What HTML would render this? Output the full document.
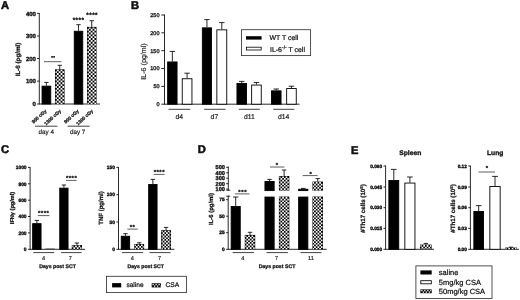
<!DOCTYPE html>
<html><head><meta charset="utf-8"><title>Figure</title>
<style>
html,body{margin:0;padding:0;background:#fff;}
body{width:520px;height:300px;overflow:hidden;}
svg{display:block;text-rendering:geometricPrecision;font-family:"Liberation Sans",Arial,sans-serif;fill:#111;}
</style></head><body>
<svg width="520" height="300" viewBox="0 0 520 300">
<rect width="520" height="300" fill="#fff"/>
<text x="1.1" y="9.0" font-size="11.2" text-anchor="start" font-weight="bold" stroke="#111" stroke-width="0.55">A</text>
<line x1="39.3" y1="12.95" x2="39.3" y2="104.45" stroke="#111" stroke-width="0.9"/>
<line x1="37.1" y1="104.0" x2="39.3" y2="104.0" stroke="#111" stroke-width="0.9"/>
<text x="35.9" y="106.16" font-size="6" text-anchor="end" font-weight="bold" stroke="#111" stroke-width="0.35">0</text>
<line x1="37.1" y1="81.1" x2="39.3" y2="81.1" stroke="#111" stroke-width="0.9"/>
<text x="35.9" y="83.26" font-size="6" text-anchor="end" font-weight="bold" stroke="#111" stroke-width="0.35">100</text>
<line x1="37.1" y1="58.5" x2="39.3" y2="58.5" stroke="#111" stroke-width="0.9"/>
<text x="35.9" y="60.66" font-size="6" text-anchor="end" font-weight="bold" stroke="#111" stroke-width="0.35">200</text>
<line x1="37.1" y1="36" x2="39.3" y2="36" stroke="#111" stroke-width="0.9"/>
<text x="35.9" y="38.16" font-size="6" text-anchor="end" font-weight="bold" stroke="#111" stroke-width="0.35">300</text>
<line x1="37.1" y1="13.4" x2="39.3" y2="13.4" stroke="#111" stroke-width="0.9"/>
<text x="35.9" y="15.56" font-size="6" text-anchor="end" font-weight="bold" stroke="#111" stroke-width="0.35">400</text>
<line x1="39.3" y1="104.0" x2="100" y2="104.0" stroke="#111" stroke-width="0.9"/>
<text x="20.3" y="59.5" font-size="6.25" text-anchor="middle" font-weight="bold" stroke="#111" stroke-width="0.25" transform="rotate(-90 20.3 59.5)">IL-6 (pg/ml)</text>
<line x1="46.4" y1="82.4" x2="46.4" y2="85.7" stroke="#111" stroke-width="0.9"/>
<line x1="44.2" y1="82.4" x2="48.6" y2="82.4" stroke="#111" stroke-width="0.9"/>
<rect x="42.05" y="86.15" width="8.7" height="17.85" fill="#000" stroke="#000" stroke-width="0.9"/>
<line x1="59.75" y1="65.3" x2="59.75" y2="69.3" stroke="#111" stroke-width="0.9"/>
<line x1="57.55" y1="65.3" x2="61.95" y2="65.3" stroke="#111" stroke-width="0.9"/>
<rect x="55" y="69.3" width="9.50" height="34.70" fill="#000"/>
<path d="M56.85 69.80h1.85v1.45h-1.85zM60.55 69.80h1.85v1.45h-1.85zM55.50 71.25h1.35v1.85h-1.35zM58.70 71.25h1.85v1.85h-1.85zM62.40 71.25h1.60v1.85h-1.60zM56.85 73.10h1.85v1.85h-1.85zM60.55 73.10h1.85v1.85h-1.85zM55.50 74.95h1.35v1.85h-1.35zM58.70 74.95h1.85v1.85h-1.85zM62.40 74.95h1.60v1.85h-1.60zM56.85 76.80h1.85v1.85h-1.85zM60.55 76.80h1.85v1.85h-1.85zM55.50 78.65h1.35v1.85h-1.35zM58.70 78.65h1.85v1.85h-1.85zM62.40 78.65h1.60v1.85h-1.60zM56.85 80.50h1.85v1.85h-1.85zM60.55 80.50h1.85v1.85h-1.85zM55.50 82.35h1.35v1.85h-1.35zM58.70 82.35h1.85v1.85h-1.85zM62.40 82.35h1.60v1.85h-1.60zM56.85 84.20h1.85v1.85h-1.85zM60.55 84.20h1.85v1.85h-1.85zM55.50 86.05h1.35v1.85h-1.35zM58.70 86.05h1.85v1.85h-1.85zM62.40 86.05h1.60v1.85h-1.60zM56.85 87.90h1.85v1.85h-1.85zM60.55 87.90h1.85v1.85h-1.85zM55.50 89.75h1.35v1.85h-1.35zM58.70 89.75h1.85v1.85h-1.85zM62.40 89.75h1.60v1.85h-1.60zM56.85 91.60h1.85v1.85h-1.85zM60.55 91.60h1.85v1.85h-1.85zM55.50 93.45h1.35v1.85h-1.35zM58.70 93.45h1.85v1.85h-1.85zM62.40 93.45h1.60v1.85h-1.60zM56.85 95.30h1.85v1.85h-1.85zM60.55 95.30h1.85v1.85h-1.85zM55.50 97.15h1.35v1.85h-1.35zM58.70 97.15h1.85v1.85h-1.85zM62.40 97.15h1.60v1.85h-1.60zM56.85 99.00h1.85v1.85h-1.85zM60.55 99.00h1.85v1.85h-1.85zM55.50 100.85h1.35v1.85h-1.35zM58.70 100.85h1.85v1.85h-1.85zM62.40 100.85h1.60v1.85h-1.60zM56.85 102.70h1.85v1.30h-1.85zM60.55 102.70h1.85v1.30h-1.85z" fill="#fff"/>
<line x1="78.5" y1="24.7" x2="78.5" y2="30.8" stroke="#111" stroke-width="0.9"/>
<line x1="76.3" y1="24.7" x2="80.7" y2="24.7" stroke="#111" stroke-width="0.9"/>
<rect x="74.25" y="31.25" width="8.5" height="72.75" fill="#000" stroke="#000" stroke-width="0.9"/>
<line x1="91.75" y1="20.7" x2="91.75" y2="26.9" stroke="#111" stroke-width="0.9"/>
<line x1="89.55" y1="20.7" x2="93.95" y2="20.7" stroke="#111" stroke-width="0.9"/>
<rect x="87" y="26.9" width="9.50" height="77.10" fill="#000"/>
<path d="M88.85 27.40h1.85v1.45h-1.85zM92.55 27.40h1.85v1.45h-1.85zM87.50 28.85h1.35v1.85h-1.35zM90.70 28.85h1.85v1.85h-1.85zM94.40 28.85h1.60v1.85h-1.60zM88.85 30.70h1.85v1.85h-1.85zM92.55 30.70h1.85v1.85h-1.85zM87.50 32.55h1.35v1.85h-1.35zM90.70 32.55h1.85v1.85h-1.85zM94.40 32.55h1.60v1.85h-1.60zM88.85 34.40h1.85v1.85h-1.85zM92.55 34.40h1.85v1.85h-1.85zM87.50 36.25h1.35v1.85h-1.35zM90.70 36.25h1.85v1.85h-1.85zM94.40 36.25h1.60v1.85h-1.60zM88.85 38.10h1.85v1.85h-1.85zM92.55 38.10h1.85v1.85h-1.85zM87.50 39.95h1.35v1.85h-1.35zM90.70 39.95h1.85v1.85h-1.85zM94.40 39.95h1.60v1.85h-1.60zM88.85 41.80h1.85v1.85h-1.85zM92.55 41.80h1.85v1.85h-1.85zM87.50 43.65h1.35v1.85h-1.35zM90.70 43.65h1.85v1.85h-1.85zM94.40 43.65h1.60v1.85h-1.60zM88.85 45.50h1.85v1.85h-1.85zM92.55 45.50h1.85v1.85h-1.85zM87.50 47.35h1.35v1.85h-1.35zM90.70 47.35h1.85v1.85h-1.85zM94.40 47.35h1.60v1.85h-1.60zM88.85 49.20h1.85v1.85h-1.85zM92.55 49.20h1.85v1.85h-1.85zM87.50 51.05h1.35v1.85h-1.35zM90.70 51.05h1.85v1.85h-1.85zM94.40 51.05h1.60v1.85h-1.60zM88.85 52.90h1.85v1.85h-1.85zM92.55 52.90h1.85v1.85h-1.85zM87.50 54.75h1.35v1.85h-1.35zM90.70 54.75h1.85v1.85h-1.85zM94.40 54.75h1.60v1.85h-1.60zM88.85 56.60h1.85v1.85h-1.85zM92.55 56.60h1.85v1.85h-1.85zM87.50 58.45h1.35v1.85h-1.35zM90.70 58.45h1.85v1.85h-1.85zM94.40 58.45h1.60v1.85h-1.60zM88.85 60.30h1.85v1.85h-1.85zM92.55 60.30h1.85v1.85h-1.85zM87.50 62.15h1.35v1.85h-1.35zM90.70 62.15h1.85v1.85h-1.85zM94.40 62.15h1.60v1.85h-1.60zM88.85 64.00h1.85v1.85h-1.85zM92.55 64.00h1.85v1.85h-1.85zM87.50 65.85h1.35v1.85h-1.35zM90.70 65.85h1.85v1.85h-1.85zM94.40 65.85h1.60v1.85h-1.60zM88.85 67.70h1.85v1.85h-1.85zM92.55 67.70h1.85v1.85h-1.85zM87.50 69.55h1.35v1.85h-1.35zM90.70 69.55h1.85v1.85h-1.85zM94.40 69.55h1.60v1.85h-1.60zM88.85 71.40h1.85v1.85h-1.85zM92.55 71.40h1.85v1.85h-1.85zM87.50 73.25h1.35v1.85h-1.35zM90.70 73.25h1.85v1.85h-1.85zM94.40 73.25h1.60v1.85h-1.60zM88.85 75.10h1.85v1.85h-1.85zM92.55 75.10h1.85v1.85h-1.85zM87.50 76.95h1.35v1.85h-1.35zM90.70 76.95h1.85v1.85h-1.85zM94.40 76.95h1.60v1.85h-1.60zM88.85 78.80h1.85v1.85h-1.85zM92.55 78.80h1.85v1.85h-1.85zM87.50 80.65h1.35v1.85h-1.35zM90.70 80.65h1.85v1.85h-1.85zM94.40 80.65h1.60v1.85h-1.60zM88.85 82.50h1.85v1.85h-1.85zM92.55 82.50h1.85v1.85h-1.85zM87.50 84.35h1.35v1.85h-1.35zM90.70 84.35h1.85v1.85h-1.85zM94.40 84.35h1.60v1.85h-1.60zM88.85 86.20h1.85v1.85h-1.85zM92.55 86.20h1.85v1.85h-1.85zM87.50 88.05h1.35v1.85h-1.35zM90.70 88.05h1.85v1.85h-1.85zM94.40 88.05h1.60v1.85h-1.60zM88.85 89.90h1.85v1.85h-1.85zM92.55 89.90h1.85v1.85h-1.85zM87.50 91.75h1.35v1.85h-1.35zM90.70 91.75h1.85v1.85h-1.85zM94.40 91.75h1.60v1.85h-1.60zM88.85 93.60h1.85v1.85h-1.85zM92.55 93.60h1.85v1.85h-1.85zM87.50 95.45h1.35v1.85h-1.35zM90.70 95.45h1.85v1.85h-1.85zM94.40 95.45h1.60v1.85h-1.60zM88.85 97.30h1.85v1.85h-1.85zM92.55 97.30h1.85v1.85h-1.85zM87.50 99.15h1.35v1.85h-1.35zM90.70 99.15h1.85v1.85h-1.85zM94.40 99.15h1.60v1.85h-1.60zM88.85 101.00h1.85v1.85h-1.85zM92.55 101.00h1.85v1.85h-1.85zM87.50 102.85h1.35v1.15h-1.35zM90.70 102.85h1.85v1.15h-1.85zM94.40 102.85h1.60v1.15h-1.60z" fill="#fff"/>
<text x="53.17" y="59.46" font-size="4.3" font-weight="bold" text-anchor="middle" letter-spacing="0.35" stroke="#111" stroke-width="0.3">**</text>
<line x1="44" y1="61.7" x2="61.4" y2="61.7" stroke="#2a2a2a" stroke-width="0.75"/>
<text x="78.58" y="21.71" font-size="6.2" font-weight="bold" text-anchor="middle" letter-spacing="0.55" stroke="#111" stroke-width="0.3">****</text>
<text x="92.18" y="17.41" font-size="6.2" font-weight="bold" text-anchor="middle" letter-spacing="0.55" stroke="#111" stroke-width="0.3">****</text>
<text x="47.0" y="111.6" font-size="4.75" text-anchor="end" font-weight="bold" stroke="#111" stroke-width="0.25" transform="rotate(-42 47.0 111.6)">900 cGy</text>
<text x="61.5" y="111.6" font-size="4.75" text-anchor="end" font-weight="bold" stroke="#111" stroke-width="0.25" transform="rotate(-42 61.5 111.6)">1300 cGy</text>
<text x="79.3" y="111.6" font-size="4.75" text-anchor="end" font-weight="bold" stroke="#111" stroke-width="0.25" transform="rotate(-42 79.3 111.6)">900 cGy</text>
<text x="93.5" y="111.6" font-size="4.75" text-anchor="end" font-weight="bold" stroke="#111" stroke-width="0.25" transform="rotate(-42 93.5 111.6)">1300 cGy</text>
<line x1="35" y1="126.2" x2="57.4" y2="126.2" stroke="#111" stroke-width="0.8"/>
<line x1="67.5" y1="126.2" x2="89.6" y2="126.2" stroke="#111" stroke-width="0.8"/>
<text x="46.2" y="134" font-size="6.3" text-anchor="middle" stroke="#111" stroke-width="0.15">day 4</text>
<text x="77.6" y="134" font-size="6.3" text-anchor="middle" stroke="#111" stroke-width="0.15">day 7</text>
<text x="131.1" y="9.0" font-size="11.2" text-anchor="start" font-weight="bold" stroke="#111" stroke-width="0.55">B</text>
<line x1="164.5" y1="14.55" x2="164.5" y2="104.65" stroke="#111" stroke-width="0.9"/>
<line x1="161.3" y1="104.2" x2="164.5" y2="104.2" stroke="#111" stroke-width="0.9"/>
<text x="159.5" y="106.18" font-size="5.5" text-anchor="end" stroke="#111" stroke-width="0.3">0</text>
<line x1="161.3" y1="86.4" x2="164.5" y2="86.4" stroke="#111" stroke-width="0.9"/>
<text x="159.5" y="88.38" font-size="5.5" text-anchor="end" stroke="#111" stroke-width="0.3">50</text>
<line x1="161.3" y1="68.5" x2="164.5" y2="68.5" stroke="#111" stroke-width="0.9"/>
<text x="159.5" y="70.48" font-size="5.5" text-anchor="end" stroke="#111" stroke-width="0.3">100</text>
<line x1="161.3" y1="50.7" x2="164.5" y2="50.7" stroke="#111" stroke-width="0.9"/>
<text x="159.5" y="52.68" font-size="5.5" text-anchor="end" stroke="#111" stroke-width="0.3">150</text>
<line x1="161.3" y1="32.8" x2="164.5" y2="32.8" stroke="#111" stroke-width="0.9"/>
<text x="159.5" y="34.78" font-size="5.5" text-anchor="end" stroke="#111" stroke-width="0.3">200</text>
<line x1="161.3" y1="15" x2="164.5" y2="15" stroke="#111" stroke-width="0.9"/>
<text x="159.5" y="16.98" font-size="5.5" text-anchor="end" stroke="#111" stroke-width="0.3">250</text>
<line x1="164.5" y1="104.2" x2="299.5" y2="104.2" stroke="#111" stroke-width="0.9"/>
<text x="145.9" y="61.5" font-size="7.15" text-anchor="middle" stroke="#111" stroke-width="0.15" transform="rotate(-90 145.9 61.5)">IL-6 (pg/ml)</text>
<line x1="172.35" y1="51.4" x2="172.35" y2="61.5" stroke="#111" stroke-width="0.9"/>
<line x1="169.65" y1="51.4" x2="175.05" y2="51.4" stroke="#111" stroke-width="0.9"/>
<rect x="167.65" y="61.95" width="9.4" height="42.25" fill="#000" stroke="#000" stroke-width="0.9"/>
<line x1="187.1" y1="73.2" x2="187.1" y2="78.3" stroke="#111" stroke-width="0.9"/>
<line x1="184.4" y1="73.2" x2="189.8" y2="73.2" stroke="#111" stroke-width="0.9"/>
<rect x="182.25" y="78.75" width="9.7" height="25.45" fill="#fff" stroke="#000" stroke-width="0.9"/>
<line x1="206.95" y1="19.6" x2="206.95" y2="27.4" stroke="#111" stroke-width="0.9"/>
<line x1="204.25" y1="19.6" x2="209.65" y2="19.6" stroke="#111" stroke-width="0.9"/>
<rect x="202.35" y="27.85" width="9.2" height="76.35" fill="#000" stroke="#000" stroke-width="0.9"/>
<line x1="221.8" y1="22.6" x2="221.8" y2="29.4" stroke="#111" stroke-width="0.9"/>
<line x1="219.1" y1="22.6" x2="224.5" y2="22.6" stroke="#111" stroke-width="0.9"/>
<rect x="216.85" y="29.85" width="9.9" height="74.35" fill="#fff" stroke="#000" stroke-width="0.9"/>
<line x1="241.75" y1="81.4" x2="241.75" y2="83" stroke="#111" stroke-width="0.9"/>
<line x1="239.05" y1="81.4" x2="244.45" y2="81.4" stroke="#111" stroke-width="0.9"/>
<rect x="236.95" y="83.45" width="9.6" height="20.75" fill="#000" stroke="#000" stroke-width="0.9"/>
<line x1="256.45" y1="82.5" x2="256.45" y2="84.6" stroke="#111" stroke-width="0.9"/>
<line x1="253.75" y1="82.5" x2="259.15" y2="82.5" stroke="#111" stroke-width="0.9"/>
<rect x="251.65" y="85.05" width="9.6" height="19.15" fill="#fff" stroke="#000" stroke-width="0.9"/>
<line x1="276.25" y1="89" x2="276.25" y2="90.4" stroke="#111" stroke-width="0.9"/>
<line x1="273.55" y1="89" x2="278.95" y2="89" stroke="#111" stroke-width="0.9"/>
<rect x="271.45" y="90.85" width="9.6" height="13.35" fill="#000" stroke="#000" stroke-width="0.9"/>
<line x1="291.45" y1="86.2" x2="291.45" y2="88.1" stroke="#111" stroke-width="0.9"/>
<line x1="288.75" y1="86.2" x2="294.15" y2="86.2" stroke="#111" stroke-width="0.9"/>
<rect x="286.65" y="88.55" width="9.6" height="15.65" fill="#fff" stroke="#000" stroke-width="0.9"/>
<line x1="168.5" y1="109.3" x2="190.2" y2="109.3" stroke="#111" stroke-width="0.8"/>
<text x="179.3" y="119.1" font-size="6.8" text-anchor="middle" stroke="#111" stroke-width="0.15">d4</text>
<line x1="204.2" y1="109.3" x2="225.6" y2="109.3" stroke="#111" stroke-width="0.8"/>
<text x="214.4" y="119.1" font-size="6.8" text-anchor="middle" stroke="#111" stroke-width="0.15">d7</text>
<line x1="238.8" y1="109.3" x2="259.8" y2="109.3" stroke="#111" stroke-width="0.8"/>
<text x="249.3" y="119.1" font-size="6.8" text-anchor="middle" stroke="#111" stroke-width="0.15">d11</text>
<line x1="273.3" y1="109.3" x2="294.3" y2="109.3" stroke="#111" stroke-width="0.8"/>
<text x="283.6" y="119.1" font-size="6.8" text-anchor="middle" stroke="#111" stroke-width="0.15">d14</text>
<rect x="241.5" y="29.7" width="69.1" height="25.9" fill="#fff" stroke="#333" stroke-width="0.85"/>
<rect x="246" y="36.2" width="15.6" height="3.4" fill="#000"/>
<rect x="246.4" y="47.2" width="14.8" height="2.8" fill="#fff" stroke="#000" stroke-width="0.8"/>
<text x="269.5" y="40.4" font-size="6.95" text-anchor="start" stroke="#111" stroke-width="0.22">WT T cell</text>
<text x="270" y="51.5" font-size="6.95" stroke="#111" stroke-width="0.22">IL-6<tspan font-size="5" dy="-3">-/-</tspan><tspan dy="3"> T cell</tspan></text>
<text x="1.1" y="153.4" font-size="11.2" text-anchor="start" font-weight="bold" stroke="#111" stroke-width="0.55">C</text>
<line x1="30.1" y1="166.95" x2="30.1" y2="249.75" stroke="#111" stroke-width="0.9"/>
<line x1="28.0" y1="249.3" x2="30.1" y2="249.3" stroke="#111" stroke-width="0.9"/>
<text x="26.6" y="251.06" font-size="4.9" text-anchor="end" font-weight="bold" stroke="#111" stroke-width="0.35">0</text>
<line x1="28.0" y1="232.9" x2="30.1" y2="232.9" stroke="#111" stroke-width="0.9"/>
<text x="26.6" y="234.66" font-size="4.9" text-anchor="end" font-weight="bold" stroke="#111" stroke-width="0.35">200</text>
<line x1="28.0" y1="216.5" x2="30.1" y2="216.5" stroke="#111" stroke-width="0.9"/>
<text x="26.6" y="218.264" font-size="4.9" text-anchor="end" font-weight="bold" stroke="#111" stroke-width="0.35">400</text>
<line x1="28.0" y1="200.2" x2="30.1" y2="200.2" stroke="#111" stroke-width="0.9"/>
<text x="26.6" y="201.964" font-size="4.9" text-anchor="end" font-weight="bold" stroke="#111" stroke-width="0.35">600</text>
<line x1="28.0" y1="183.8" x2="30.1" y2="183.8" stroke="#111" stroke-width="0.9"/>
<text x="26.6" y="185.56" font-size="4.9" text-anchor="end" font-weight="bold" stroke="#111" stroke-width="0.35">800</text>
<line x1="28.0" y1="167.4" x2="30.1" y2="167.4" stroke="#111" stroke-width="0.9"/>
<text x="26.6" y="169.16" font-size="4.9" text-anchor="end" font-weight="bold" stroke="#111" stroke-width="0.35">1000</text>
<line x1="30" y1="249.3" x2="85.1" y2="249.3" stroke="#111" stroke-width="0.9"/>
<text x="14" y="208" font-size="5.6" text-anchor="middle" font-weight="bold" stroke="#111" stroke-width="0.25" transform="rotate(-90 14 208)">IFNγ (pg/ml)</text>
<line x1="36.85" y1="220.4" x2="36.85" y2="223.2" stroke="#111" stroke-width="0.9"/>
<line x1="34.65" y1="220.4" x2="39.05" y2="220.4" stroke="#111" stroke-width="0.9"/>
<rect x="32.65" y="223.65" width="8.4" height="25.65" fill="#000" stroke="#000" stroke-width="0.9"/>
<line x1="45.5" y1="248.8" x2="54.8" y2="248.8" stroke="#111" stroke-width="0.5"/>
<line x1="63.9" y1="185" x2="63.9" y2="187.7" stroke="#111" stroke-width="0.9"/>
<line x1="61.7" y1="185" x2="66.1" y2="185" stroke="#111" stroke-width="0.9"/>
<rect x="59.75" y="188.15" width="8.3" height="61.15" fill="#000" stroke="#000" stroke-width="0.9"/>
<line x1="76.9" y1="243" x2="76.9" y2="245.1" stroke="#111" stroke-width="0.9"/>
<line x1="74.7" y1="243" x2="79.1" y2="243" stroke="#111" stroke-width="0.9"/>
<rect x="71.8" y="245.1" width="10.20" height="4.20" fill="#000"/>
<path d="M72.30 245.60h1.10v1.60h-1.10zM75.10 245.60h1.70v1.60h-1.70zM78.50 245.60h1.70v1.60h-1.70zM73.40 247.20h1.70v1.70h-1.70zM76.80 247.20h1.70v1.70h-1.70zM80.20 247.20h1.30v1.70h-1.30zM72.30 248.90h1.10v0.40h-1.10zM75.10 248.90h1.70v0.40h-1.70zM78.50 248.90h1.70v0.40h-1.70z" fill="#fff"/>
<text x="43.65" y="215.31" font-size="6" font-weight="bold" text-anchor="middle" letter-spacing="0.5" stroke="#111" stroke-width="0.3">****</text>
<line x1="37.8" y1="215.6" x2="49.4" y2="215.6" stroke="#2a2a2a" stroke-width="0.75"/>
<text x="71.55" y="179.61" font-size="6" font-weight="bold" text-anchor="middle" letter-spacing="0.5" stroke="#111" stroke-width="0.3">****</text>
<line x1="66" y1="180.4" x2="76.6" y2="180.4" stroke="#2a2a2a" stroke-width="0.75"/>
<line x1="33.3" y1="252.6" x2="54.1" y2="252.6" stroke="#111" stroke-width="0.8"/>
<line x1="61.1" y1="252.6" x2="81.6" y2="252.6" stroke="#111" stroke-width="0.8"/>
<text x="43.6" y="260.2" font-size="5.6" text-anchor="middle" stroke="#111" stroke-width="0.15">4</text>
<text x="70.4" y="260.2" font-size="5.6" text-anchor="middle" stroke="#111" stroke-width="0.15">7</text>
<text x="57.5" y="268" font-size="5.2" text-anchor="middle" font-weight="bold" stroke="#111" stroke-width="0.25">Days post SCT</text>
<line x1="118.5" y1="166.95" x2="118.5" y2="249.75" stroke="#111" stroke-width="0.9"/>
<line x1="116.4" y1="249.3" x2="118.5" y2="249.3" stroke="#111" stroke-width="0.9"/>
<text x="115.0" y="251.06" font-size="4.9" text-anchor="end" font-weight="bold" stroke="#111" stroke-width="0.35">0</text>
<line x1="116.4" y1="222" x2="118.5" y2="222" stroke="#111" stroke-width="0.9"/>
<text x="115.0" y="223.764" font-size="4.9" text-anchor="end" font-weight="bold" stroke="#111" stroke-width="0.35">50</text>
<line x1="116.4" y1="194.7" x2="118.5" y2="194.7" stroke="#111" stroke-width="0.9"/>
<text x="115.0" y="196.464" font-size="4.9" text-anchor="end" font-weight="bold" stroke="#111" stroke-width="0.35">100</text>
<line x1="116.4" y1="167.4" x2="118.5" y2="167.4" stroke="#111" stroke-width="0.9"/>
<text x="115.0" y="169.16" font-size="4.9" text-anchor="end" font-weight="bold" stroke="#111" stroke-width="0.35">150</text>
<line x1="118.5" y1="249.3" x2="174.4" y2="249.3" stroke="#111" stroke-width="0.9"/>
<text x="102.9" y="208" font-size="6.05" text-anchor="middle" font-weight="bold" stroke="#111" stroke-width="0.25" transform="rotate(-90 102.9 208)">TNF (pg/ml)</text>
<line x1="125.45" y1="233.7" x2="125.45" y2="235.8" stroke="#111" stroke-width="0.9"/>
<line x1="123.25" y1="233.7" x2="127.65" y2="233.7" stroke="#111" stroke-width="0.9"/>
<rect x="121.25" y="236.25" width="8.4" height="13.05" fill="#000" stroke="#000" stroke-width="0.9"/>
<line x1="139.2" y1="242.8" x2="139.2" y2="244" stroke="#111" stroke-width="0.9"/>
<line x1="137.0" y1="242.8" x2="141.4" y2="242.8" stroke="#111" stroke-width="0.9"/>
<rect x="134.3" y="244" width="9.80" height="5.30" fill="#000"/>
<path d="M134.80 244.50h1.10v1.60h-1.10zM137.60 244.50h1.70v1.60h-1.70zM141.00 244.50h1.70v1.60h-1.70zM135.90 246.10h1.70v1.70h-1.70zM139.30 246.10h1.70v1.70h-1.70zM142.70 246.10h0.90v1.70h-0.90zM134.80 247.80h1.10v1.50h-1.10zM137.60 247.80h1.70v1.50h-1.70zM141.00 247.80h1.70v1.50h-1.70z" fill="#fff"/>
<line x1="152.85" y1="179.4" x2="152.85" y2="184" stroke="#111" stroke-width="0.9"/>
<line x1="150.65" y1="179.4" x2="155.05" y2="179.4" stroke="#111" stroke-width="0.9"/>
<rect x="148.65" y="184.45" width="8.4" height="64.85" fill="#000" stroke="#000" stroke-width="0.9"/>
<line x1="166.05" y1="227.4" x2="166.05" y2="230.2" stroke="#111" stroke-width="0.9"/>
<line x1="163.85" y1="227.4" x2="168.25" y2="227.4" stroke="#111" stroke-width="0.9"/>
<rect x="161.1" y="230.2" width="9.90" height="19.10" fill="#000"/>
<path d="M161.60 230.70h1.10v1.60h-1.10zM164.40 230.70h1.70v1.60h-1.70zM167.80 230.70h1.70v1.60h-1.70zM162.70 232.30h1.70v1.70h-1.70zM166.10 232.30h1.70v1.70h-1.70zM169.50 232.30h1.00v1.70h-1.00zM161.60 234.00h1.10v1.70h-1.10zM164.40 234.00h1.70v1.70h-1.70zM167.80 234.00h1.70v1.70h-1.70zM162.70 235.70h1.70v1.70h-1.70zM166.10 235.70h1.70v1.70h-1.70zM169.50 235.70h1.00v1.70h-1.00zM161.60 237.40h1.10v1.70h-1.10zM164.40 237.40h1.70v1.70h-1.70zM167.80 237.40h1.70v1.70h-1.70zM162.70 239.10h1.70v1.70h-1.70zM166.10 239.10h1.70v1.70h-1.70zM169.50 239.10h1.00v1.70h-1.00zM161.60 240.80h1.10v1.70h-1.10zM164.40 240.80h1.70v1.70h-1.70zM167.80 240.80h1.70v1.70h-1.70zM162.70 242.50h1.70v1.70h-1.70zM166.10 242.50h1.70v1.70h-1.70zM169.50 242.50h1.00v1.70h-1.00zM161.60 244.20h1.10v1.70h-1.10zM164.40 244.20h1.70v1.70h-1.70zM167.80 244.20h1.70v1.70h-1.70zM162.70 245.90h1.70v1.70h-1.70zM166.10 245.90h1.70v1.70h-1.70zM169.50 245.90h1.00v1.70h-1.00zM161.60 247.60h1.10v1.70h-1.10zM164.40 247.60h1.70v1.70h-1.70zM167.80 247.60h1.70v1.70h-1.70z" fill="#fff"/>
<text x="132.55" y="228.51" font-size="6" font-weight="bold" text-anchor="middle" letter-spacing="0.5" stroke="#111" stroke-width="0.3">**</text>
<line x1="127.3" y1="229.1" x2="137.8" y2="229.1" stroke="#2a2a2a" stroke-width="0.75"/>
<text x="159.35" y="174.01" font-size="6" font-weight="bold" text-anchor="middle" letter-spacing="0.5" stroke="#111" stroke-width="0.3">****</text>
<line x1="153.6" y1="174.4" x2="164.6" y2="174.4" stroke="#2a2a2a" stroke-width="0.75"/>
<line x1="122" y1="252.6" x2="143.2" y2="252.6" stroke="#111" stroke-width="0.8"/>
<line x1="149.5" y1="252.6" x2="170.5" y2="252.6" stroke="#111" stroke-width="0.8"/>
<text x="132.4" y="260.2" font-size="5.6" text-anchor="middle" stroke="#111" stroke-width="0.15">4</text>
<text x="159.5" y="260.2" font-size="5.6" text-anchor="middle" stroke="#111" stroke-width="0.15">7</text>
<text x="145.7" y="268" font-size="5.2" text-anchor="middle" font-weight="bold" stroke="#111" stroke-width="0.25">Days post SCT</text>
<rect x="106.5" y="276.3" width="79.9" height="16.3" fill="#fff" stroke="#333" stroke-width="0.85"/>
<rect x="112.1" y="283.1" width="9.1" height="4.3" fill="#000"/>
<text x="126.4" y="287.4" font-size="6.6" text-anchor="start" stroke="#111" stroke-width="0.22">saline</text>
<rect x="151.7" y="283.3" width="9.20" height="4.10" fill="#000"/>
<path d="M152.52 284.02h1.26v1.26h-1.26zM155.52 284.02h1.26v1.26h-1.26zM158.52 284.02h1.26v1.26h-1.26zM152.20 285.52h0.08v1.26h-0.08zM154.02 285.52h1.26v1.26h-1.26zM157.02 285.52h1.26v1.26h-1.26zM160.02 285.52h0.38v1.26h-0.38z" fill="#fff"/>
<text x="165.5" y="287.4" font-size="6.7" text-anchor="start" stroke="#111" stroke-width="0.22">CSA</text>
<text x="197.8" y="153.4" font-size="11.2" text-anchor="start" font-weight="bold" stroke="#111" stroke-width="0.55">D</text>
<line x1="228.3" y1="166.55" x2="228.3" y2="190.65" stroke="#111" stroke-width="0.9"/>
<line x1="226.2" y1="189.1" x2="228.3" y2="189.1" stroke="#111" stroke-width="0.9"/>
<text x="224.9" y="191.12" font-size="5.6" text-anchor="end" font-weight="bold" stroke="#111" stroke-width="0.35">100</text>
<line x1="226.2" y1="183.7" x2="228.3" y2="183.7" stroke="#111" stroke-width="0.9"/>
<text x="224.9" y="185.72" font-size="5.6" text-anchor="end" font-weight="bold" stroke="#111" stroke-width="0.35">200</text>
<line x1="226.2" y1="178.2" x2="228.3" y2="178.2" stroke="#111" stroke-width="0.9"/>
<text x="224.9" y="180.22" font-size="5.6" text-anchor="end" font-weight="bold" stroke="#111" stroke-width="0.35">300</text>
<line x1="226.2" y1="172.8" x2="228.3" y2="172.8" stroke="#111" stroke-width="0.9"/>
<text x="224.9" y="174.816" font-size="5.6" text-anchor="end" font-weight="bold" stroke="#111" stroke-width="0.35">400</text>
<line x1="226.2" y1="167.3" x2="228.3" y2="167.3" stroke="#111" stroke-width="0.9"/>
<text x="224.9" y="169.316" font-size="5.6" text-anchor="end" font-weight="bold" stroke="#111" stroke-width="0.35">500</text>
<line x1="226.3" y1="190.2" x2="230.3" y2="190.2" stroke="#111" stroke-width="0.9"/>
<line x1="228.2" y1="195.75" x2="228.2" y2="249.75" stroke="#111" stroke-width="0.9"/>
<line x1="226.1" y1="249.3" x2="228.2" y2="249.3" stroke="#111" stroke-width="0.9"/>
<text x="224.7" y="251.06" font-size="4.9" text-anchor="end" font-weight="bold" stroke="#111" stroke-width="0.35">0</text>
<line x1="226.1" y1="232.7" x2="228.2" y2="232.7" stroke="#111" stroke-width="0.9"/>
<text x="224.7" y="234.464" font-size="4.9" text-anchor="end" font-weight="bold" stroke="#111" stroke-width="0.35">25</text>
<line x1="226.1" y1="216.2" x2="228.2" y2="216.2" stroke="#111" stroke-width="0.9"/>
<text x="224.7" y="217.964" font-size="4.9" text-anchor="end" font-weight="bold" stroke="#111" stroke-width="0.35">50</text>
<line x1="226.1" y1="199.7" x2="228.2" y2="199.7" stroke="#111" stroke-width="0.9"/>
<text x="224.7" y="201.464" font-size="4.9" text-anchor="end" font-weight="bold" stroke="#111" stroke-width="0.35">75</text>
<line x1="226.2" y1="196.2" x2="230.2" y2="196.2" stroke="#111" stroke-width="0.9"/>
<line x1="228.2" y1="249.3" x2="326.8" y2="249.3" stroke="#111" stroke-width="0.9"/>
<text x="213.0" y="209" font-size="5.95" text-anchor="middle" font-weight="bold" stroke="#111" stroke-width="0.25" transform="rotate(-90 213.0 209)">IL-6 (pg/ml)</text>
<line x1="235.7" y1="197" x2="235.7" y2="206" stroke="#111" stroke-width="0.9"/>
<line x1="233.0" y1="197" x2="238.4" y2="197" stroke="#111" stroke-width="0.9"/>
<rect x="231.15" y="206.45" width="9.1" height="42.85" fill="#000" stroke="#000" stroke-width="0.9"/>
<line x1="250.0" y1="232.3" x2="250.0" y2="234.9" stroke="#111" stroke-width="0.9"/>
<line x1="247.8" y1="232.3" x2="252.2" y2="232.3" stroke="#111" stroke-width="0.9"/>
<rect x="244.8" y="234.9" width="10.40" height="14.40" fill="#000"/>
<path d="M245.30 235.40h1.10v1.60h-1.10zM248.10 235.40h1.70v1.60h-1.70zM251.50 235.40h1.70v1.60h-1.70zM246.40 237.00h1.70v1.70h-1.70zM249.80 237.00h1.70v1.70h-1.70zM253.20 237.00h1.50v1.70h-1.50zM245.30 238.70h1.10v1.70h-1.10zM248.10 238.70h1.70v1.70h-1.70zM251.50 238.70h1.70v1.70h-1.70zM246.40 240.40h1.70v1.70h-1.70zM249.80 240.40h1.70v1.70h-1.70zM253.20 240.40h1.50v1.70h-1.50zM245.30 242.10h1.10v1.70h-1.10zM248.10 242.10h1.70v1.70h-1.70zM251.50 242.10h1.70v1.70h-1.70zM246.40 243.80h1.70v1.70h-1.70zM249.80 243.80h1.70v1.70h-1.70zM253.20 243.80h1.50v1.70h-1.50zM245.30 245.50h1.10v1.70h-1.10zM248.10 245.50h1.70v1.70h-1.70zM251.50 245.50h1.70v1.70h-1.70zM246.40 247.20h1.70v1.70h-1.70zM249.80 247.20h1.70v1.70h-1.70zM253.20 247.20h1.50v1.70h-1.50zM245.30 248.90h1.10v0.40h-1.10zM248.10 248.90h1.70v0.40h-1.70zM251.50 248.90h1.70v0.40h-1.70z" fill="#fff"/>
<rect x="264.95" y="197.05" width="9.2" height="52.25" fill="#000" stroke="#000" stroke-width="0.9"/>
<line x1="269.55" y1="179.4" x2="269.55" y2="181" stroke="#111" stroke-width="0.9"/>
<line x1="267.35" y1="179.4" x2="271.75" y2="179.4" stroke="#111" stroke-width="0.9"/>
<rect x="264.95" y="181.45" width="9.2" height="9.15" fill="#000" stroke="#000" stroke-width="0.9"/>
<rect x="278.9" y="196.6" width="10.40" height="52.70" fill="#000"/>
<path d="M279.40 197.10h1.10v1.60h-1.10zM282.20 197.10h1.70v1.60h-1.70zM285.60 197.10h1.70v1.60h-1.70zM280.50 198.70h1.70v1.70h-1.70zM283.90 198.70h1.70v1.70h-1.70zM287.30 198.70h1.50v1.70h-1.50zM279.40 200.40h1.10v1.70h-1.10zM282.20 200.40h1.70v1.70h-1.70zM285.60 200.40h1.70v1.70h-1.70zM280.50 202.10h1.70v1.70h-1.70zM283.90 202.10h1.70v1.70h-1.70zM287.30 202.10h1.50v1.70h-1.50zM279.40 203.80h1.10v1.70h-1.10zM282.20 203.80h1.70v1.70h-1.70zM285.60 203.80h1.70v1.70h-1.70zM280.50 205.50h1.70v1.70h-1.70zM283.90 205.50h1.70v1.70h-1.70zM287.30 205.50h1.50v1.70h-1.50zM279.40 207.20h1.10v1.70h-1.10zM282.20 207.20h1.70v1.70h-1.70zM285.60 207.20h1.70v1.70h-1.70zM280.50 208.90h1.70v1.70h-1.70zM283.90 208.90h1.70v1.70h-1.70zM287.30 208.90h1.50v1.70h-1.50zM279.40 210.60h1.10v1.70h-1.10zM282.20 210.60h1.70v1.70h-1.70zM285.60 210.60h1.70v1.70h-1.70zM280.50 212.30h1.70v1.70h-1.70zM283.90 212.30h1.70v1.70h-1.70zM287.30 212.30h1.50v1.70h-1.50zM279.40 214.00h1.10v1.70h-1.10zM282.20 214.00h1.70v1.70h-1.70zM285.60 214.00h1.70v1.70h-1.70zM280.50 215.70h1.70v1.70h-1.70zM283.90 215.70h1.70v1.70h-1.70zM287.30 215.70h1.50v1.70h-1.50zM279.40 217.40h1.10v1.70h-1.10zM282.20 217.40h1.70v1.70h-1.70zM285.60 217.40h1.70v1.70h-1.70zM280.50 219.10h1.70v1.70h-1.70zM283.90 219.10h1.70v1.70h-1.70zM287.30 219.10h1.50v1.70h-1.50zM279.40 220.80h1.10v1.70h-1.10zM282.20 220.80h1.70v1.70h-1.70zM285.60 220.80h1.70v1.70h-1.70zM280.50 222.50h1.70v1.70h-1.70zM283.90 222.50h1.70v1.70h-1.70zM287.30 222.50h1.50v1.70h-1.50zM279.40 224.20h1.10v1.70h-1.10zM282.20 224.20h1.70v1.70h-1.70zM285.60 224.20h1.70v1.70h-1.70zM280.50 225.90h1.70v1.70h-1.70zM283.90 225.90h1.70v1.70h-1.70zM287.30 225.90h1.50v1.70h-1.50zM279.40 227.60h1.10v1.70h-1.10zM282.20 227.60h1.70v1.70h-1.70zM285.60 227.60h1.70v1.70h-1.70zM280.50 229.30h1.70v1.70h-1.70zM283.90 229.30h1.70v1.70h-1.70zM287.30 229.30h1.50v1.70h-1.50zM279.40 231.00h1.10v1.70h-1.10zM282.20 231.00h1.70v1.70h-1.70zM285.60 231.00h1.70v1.70h-1.70zM280.50 232.70h1.70v1.70h-1.70zM283.90 232.70h1.70v1.70h-1.70zM287.30 232.70h1.50v1.70h-1.50zM279.40 234.40h1.10v1.70h-1.10zM282.20 234.40h1.70v1.70h-1.70zM285.60 234.40h1.70v1.70h-1.70zM280.50 236.10h1.70v1.70h-1.70zM283.90 236.10h1.70v1.70h-1.70zM287.30 236.10h1.50v1.70h-1.50zM279.40 237.80h1.10v1.70h-1.10zM282.20 237.80h1.70v1.70h-1.70zM285.60 237.80h1.70v1.70h-1.70zM280.50 239.50h1.70v1.70h-1.70zM283.90 239.50h1.70v1.70h-1.70zM287.30 239.50h1.50v1.70h-1.50zM279.40 241.20h1.10v1.70h-1.10zM282.20 241.20h1.70v1.70h-1.70zM285.60 241.20h1.70v1.70h-1.70zM280.50 242.90h1.70v1.70h-1.70zM283.90 242.90h1.70v1.70h-1.70zM287.30 242.90h1.50v1.70h-1.50zM279.40 244.60h1.10v1.70h-1.10zM282.20 244.60h1.70v1.70h-1.70zM285.60 244.60h1.70v1.70h-1.70zM280.50 246.30h1.70v1.70h-1.70zM283.90 246.30h1.70v1.70h-1.70zM287.30 246.30h1.50v1.70h-1.50zM279.40 248.00h1.10v1.30h-1.10zM282.20 248.00h1.70v1.30h-1.70zM285.60 248.00h1.70v1.30h-1.70z" fill="#fff"/>
<line x1="284.1" y1="170" x2="284.1" y2="176" stroke="#111" stroke-width="0.9"/>
<line x1="281.9" y1="170" x2="286.3" y2="170" stroke="#111" stroke-width="0.9"/>
<rect x="278.9" y="176" width="10.40" height="14.60" fill="#000"/>
<path d="M279.40 176.50h1.10v1.60h-1.10zM282.20 176.50h1.70v1.60h-1.70zM285.60 176.50h1.70v1.60h-1.70zM280.50 178.10h1.70v1.70h-1.70zM283.90 178.10h1.70v1.70h-1.70zM287.30 178.10h1.50v1.70h-1.50zM279.40 179.80h1.10v1.70h-1.10zM282.20 179.80h1.70v1.70h-1.70zM285.60 179.80h1.70v1.70h-1.70zM280.50 181.50h1.70v1.70h-1.70zM283.90 181.50h1.70v1.70h-1.70zM287.30 181.50h1.50v1.70h-1.50zM279.40 183.20h1.10v1.70h-1.10zM282.20 183.20h1.70v1.70h-1.70zM285.60 183.20h1.70v1.70h-1.70zM280.50 184.90h1.70v1.70h-1.70zM283.90 184.90h1.70v1.70h-1.70zM287.30 184.90h1.50v1.70h-1.50zM279.40 186.60h1.10v1.70h-1.10zM282.20 186.60h1.70v1.70h-1.70zM285.60 186.60h1.70v1.70h-1.70zM280.50 188.30h1.70v1.70h-1.70zM283.90 188.30h1.70v1.70h-1.70zM287.30 188.30h1.50v1.70h-1.50zM279.40 190.00h1.10v0.60h-1.10zM282.20 190.00h1.70v0.60h-1.70zM285.60 190.00h1.70v0.60h-1.70z" fill="#fff"/>
<rect x="298.65" y="197.05" width="9.2" height="52.25" fill="#000" stroke="#000" stroke-width="0.9"/>
<line x1="303.25" y1="188.4" x2="303.25" y2="188.8" stroke="#111" stroke-width="0.9"/>
<line x1="301.05" y1="188.4" x2="305.45" y2="188.4" stroke="#111" stroke-width="0.9"/>
<rect x="298.65" y="189.25" width="9.2" height="1.35" fill="#000" stroke="#000" stroke-width="0.9"/>
<rect x="312.5" y="196.6" width="10.50" height="52.70" fill="#000"/>
<path d="M313.00 197.10h1.10v1.60h-1.10zM315.80 197.10h1.70v1.60h-1.70zM319.20 197.10h1.70v1.60h-1.70zM314.10 198.70h1.70v1.70h-1.70zM317.50 198.70h1.70v1.70h-1.70zM320.90 198.70h1.60v1.70h-1.60zM313.00 200.40h1.10v1.70h-1.10zM315.80 200.40h1.70v1.70h-1.70zM319.20 200.40h1.70v1.70h-1.70zM314.10 202.10h1.70v1.70h-1.70zM317.50 202.10h1.70v1.70h-1.70zM320.90 202.10h1.60v1.70h-1.60zM313.00 203.80h1.10v1.70h-1.10zM315.80 203.80h1.70v1.70h-1.70zM319.20 203.80h1.70v1.70h-1.70zM314.10 205.50h1.70v1.70h-1.70zM317.50 205.50h1.70v1.70h-1.70zM320.90 205.50h1.60v1.70h-1.60zM313.00 207.20h1.10v1.70h-1.10zM315.80 207.20h1.70v1.70h-1.70zM319.20 207.20h1.70v1.70h-1.70zM314.10 208.90h1.70v1.70h-1.70zM317.50 208.90h1.70v1.70h-1.70zM320.90 208.90h1.60v1.70h-1.60zM313.00 210.60h1.10v1.70h-1.10zM315.80 210.60h1.70v1.70h-1.70zM319.20 210.60h1.70v1.70h-1.70zM314.10 212.30h1.70v1.70h-1.70zM317.50 212.30h1.70v1.70h-1.70zM320.90 212.30h1.60v1.70h-1.60zM313.00 214.00h1.10v1.70h-1.10zM315.80 214.00h1.70v1.70h-1.70zM319.20 214.00h1.70v1.70h-1.70zM314.10 215.70h1.70v1.70h-1.70zM317.50 215.70h1.70v1.70h-1.70zM320.90 215.70h1.60v1.70h-1.60zM313.00 217.40h1.10v1.70h-1.10zM315.80 217.40h1.70v1.70h-1.70zM319.20 217.40h1.70v1.70h-1.70zM314.10 219.10h1.70v1.70h-1.70zM317.50 219.10h1.70v1.70h-1.70zM320.90 219.10h1.60v1.70h-1.60zM313.00 220.80h1.10v1.70h-1.10zM315.80 220.80h1.70v1.70h-1.70zM319.20 220.80h1.70v1.70h-1.70zM314.10 222.50h1.70v1.70h-1.70zM317.50 222.50h1.70v1.70h-1.70zM320.90 222.50h1.60v1.70h-1.60zM313.00 224.20h1.10v1.70h-1.10zM315.80 224.20h1.70v1.70h-1.70zM319.20 224.20h1.70v1.70h-1.70zM314.10 225.90h1.70v1.70h-1.70zM317.50 225.90h1.70v1.70h-1.70zM320.90 225.90h1.60v1.70h-1.60zM313.00 227.60h1.10v1.70h-1.10zM315.80 227.60h1.70v1.70h-1.70zM319.20 227.60h1.70v1.70h-1.70zM314.10 229.30h1.70v1.70h-1.70zM317.50 229.30h1.70v1.70h-1.70zM320.90 229.30h1.60v1.70h-1.60zM313.00 231.00h1.10v1.70h-1.10zM315.80 231.00h1.70v1.70h-1.70zM319.20 231.00h1.70v1.70h-1.70zM314.10 232.70h1.70v1.70h-1.70zM317.50 232.70h1.70v1.70h-1.70zM320.90 232.70h1.60v1.70h-1.60zM313.00 234.40h1.10v1.70h-1.10zM315.80 234.40h1.70v1.70h-1.70zM319.20 234.40h1.70v1.70h-1.70zM314.10 236.10h1.70v1.70h-1.70zM317.50 236.10h1.70v1.70h-1.70zM320.90 236.10h1.60v1.70h-1.60zM313.00 237.80h1.10v1.70h-1.10zM315.80 237.80h1.70v1.70h-1.70zM319.20 237.80h1.70v1.70h-1.70zM314.10 239.50h1.70v1.70h-1.70zM317.50 239.50h1.70v1.70h-1.70zM320.90 239.50h1.60v1.70h-1.60zM313.00 241.20h1.10v1.70h-1.10zM315.80 241.20h1.70v1.70h-1.70zM319.20 241.20h1.70v1.70h-1.70zM314.10 242.90h1.70v1.70h-1.70zM317.50 242.90h1.70v1.70h-1.70zM320.90 242.90h1.60v1.70h-1.60zM313.00 244.60h1.10v1.70h-1.10zM315.80 244.60h1.70v1.70h-1.70zM319.20 244.60h1.70v1.70h-1.70zM314.10 246.30h1.70v1.70h-1.70zM317.50 246.30h1.70v1.70h-1.70zM320.90 246.30h1.60v1.70h-1.60zM313.00 248.00h1.10v1.30h-1.10zM315.80 248.00h1.70v1.30h-1.70zM319.20 248.00h1.70v1.30h-1.70z" fill="#fff"/>
<line x1="317.75" y1="178.6" x2="317.75" y2="181.6" stroke="#111" stroke-width="0.9"/>
<line x1="315.55" y1="178.6" x2="319.95" y2="178.6" stroke="#111" stroke-width="0.9"/>
<rect x="312.5" y="181.6" width="10.50" height="9.00" fill="#000"/>
<path d="M313.00 182.10h1.10v1.60h-1.10zM315.80 182.10h1.70v1.60h-1.70zM319.20 182.10h1.70v1.60h-1.70zM314.10 183.70h1.70v1.70h-1.70zM317.50 183.70h1.70v1.70h-1.70zM320.90 183.70h1.60v1.70h-1.60zM313.00 185.40h1.10v1.70h-1.10zM315.80 185.40h1.70v1.70h-1.70zM319.20 185.40h1.70v1.70h-1.70zM314.10 187.10h1.70v1.70h-1.70zM317.50 187.10h1.70v1.70h-1.70zM320.90 187.10h1.60v1.70h-1.60zM313.00 188.80h1.10v1.70h-1.10zM315.80 188.80h1.70v1.70h-1.70zM319.20 188.80h1.70v1.70h-1.70zM314.10 190.50h1.70v0.10h-1.70zM317.50 190.50h1.70v0.10h-1.70zM320.90 190.50h1.60v0.10h-1.60z" fill="#fff"/>
<text x="242.75" y="193.81" font-size="6" font-weight="bold" text-anchor="middle" letter-spacing="0.7" stroke="#111" stroke-width="0.3">***</text>
<line x1="235" y1="193.9" x2="249.5" y2="193.9" stroke="#2a2a2a" stroke-width="0.75"/>
<text x="277.00" y="166.61" font-size="6" font-weight="bold" text-anchor="middle" letter-spacing="0" stroke="#111" stroke-width="0.3">*</text>
<line x1="270" y1="167" x2="284.4" y2="167" stroke="#2a2a2a" stroke-width="0.75"/>
<text x="310.60" y="175.61" font-size="6" font-weight="bold" text-anchor="middle" letter-spacing="0" stroke="#111" stroke-width="0.3">*</text>
<line x1="302.6" y1="175.6" x2="317.6" y2="175.6" stroke="#2a2a2a" stroke-width="0.75"/>
<line x1="232.6" y1="252.6" x2="254.1" y2="252.6" stroke="#111" stroke-width="0.8"/>
<text x="242.7" y="260.2" font-size="5.6" text-anchor="middle" stroke="#111" stroke-width="0.15">4</text>
<line x1="266.5" y1="252.6" x2="288" y2="252.6" stroke="#111" stroke-width="0.8"/>
<text x="276.5" y="260.2" font-size="5.6" text-anchor="middle" stroke="#111" stroke-width="0.15">7</text>
<line x1="300.5" y1="252.6" x2="321.5" y2="252.6" stroke="#111" stroke-width="0.8"/>
<text x="311" y="260.2" font-size="5.6" text-anchor="middle" stroke="#111" stroke-width="0.15">11</text>
<text x="277" y="268" font-size="5.2" text-anchor="middle" font-weight="bold" stroke="#111" stroke-width="0.25">Days post SCT</text>
<text x="350.9" y="153.9" font-size="11.2" text-anchor="start" font-weight="bold" stroke="#111" stroke-width="0.55">E</text>
<text x="410.3" y="154.6" font-size="6.7" text-anchor="middle" font-weight="bold" stroke="#111" stroke-width="0.3">Spleen</text>
<text x="495.2" y="154.6" font-size="6.7" text-anchor="middle" font-weight="bold" stroke="#111" stroke-width="0.3">Lung</text>
<line x1="385.6" y1="165.55" x2="385.6" y2="249.75" stroke="#111" stroke-width="0.9"/>
<line x1="383.5" y1="249.3" x2="385.6" y2="249.3" stroke="#111" stroke-width="0.9"/>
<text x="382.1" y="251.01" font-size="4.75" text-anchor="end" font-weight="bold" stroke="#111" stroke-width="0.35">0.000</text>
<line x1="383.5" y1="228.4" x2="385.6" y2="228.4" stroke="#111" stroke-width="0.9"/>
<text x="382.1" y="230.11" font-size="4.75" text-anchor="end" font-weight="bold" stroke="#111" stroke-width="0.35">0.015</text>
<line x1="383.5" y1="207.7" x2="385.6" y2="207.7" stroke="#111" stroke-width="0.9"/>
<text x="382.1" y="209.41" font-size="4.75" text-anchor="end" font-weight="bold" stroke="#111" stroke-width="0.35">0.030</text>
<line x1="383.5" y1="187" x2="385.6" y2="187" stroke="#111" stroke-width="0.9"/>
<text x="382.1" y="188.71" font-size="4.75" text-anchor="end" font-weight="bold" stroke="#111" stroke-width="0.35">0.045</text>
<line x1="383.5" y1="166" x2="385.6" y2="166" stroke="#111" stroke-width="0.9"/>
<text x="382.1" y="167.71" font-size="4.75" text-anchor="end" font-weight="bold" stroke="#111" stroke-width="0.35">0.060</text>
<line x1="385.6" y1="249.3" x2="434" y2="249.3" stroke="#111" stroke-width="0.9"/>
<text x="364.7" y="208.5" font-size="6.2" font-weight="bold" stroke="#111" stroke-width="0.25" text-anchor="middle" transform="rotate(-90 364.7 208.5)">#Th17 cells (10<tspan font-size="4.2" dy="-2">5</tspan><tspan dy="2">)</tspan></text>
<line x1="393.8" y1="169.4" x2="393.8" y2="180" stroke="#111" stroke-width="0.9"/>
<line x1="391.0" y1="169.4" x2="396.6" y2="169.4" stroke="#111" stroke-width="0.9"/>
<rect x="388.85" y="180.45" width="9.9" height="68.85" fill="#000" stroke="#000" stroke-width="0.9"/>
<line x1="409.9" y1="177" x2="409.9" y2="182.6" stroke="#111" stroke-width="0.9"/>
<line x1="407.1" y1="177" x2="412.7" y2="177" stroke="#111" stroke-width="0.9"/>
<rect x="404.85" y="183.05" width="10.1" height="66.25" fill="#fff" stroke="#000" stroke-width="0.9"/>
<line x1="425.8" y1="243.4" x2="425.8" y2="244.6" stroke="#111" stroke-width="0.9"/>
<line x1="423.6" y1="243.4" x2="428.0" y2="243.4" stroke="#111" stroke-width="0.9"/>
<rect x="420" y="244.6" width="11.60" height="4.70" fill="#000"/>
<path d="M420.50 245.10h1.10v1.60h-1.10zM423.30 245.10h1.70v1.60h-1.70zM426.70 245.10h1.70v1.60h-1.70zM430.10 245.10h1.00v1.60h-1.00zM421.60 246.70h1.70v1.70h-1.70zM425.00 246.70h1.70v1.70h-1.70zM428.40 246.70h1.70v1.70h-1.70zM420.50 248.40h1.10v0.90h-1.10zM423.30 248.40h1.70v0.90h-1.70zM426.70 248.40h1.70v0.90h-1.70zM430.10 248.40h1.00v0.90h-1.00z" fill="#fff"/>
<line x1="470.4" y1="165.55" x2="470.4" y2="249.75" stroke="#111" stroke-width="0.9"/>
<line x1="468.3" y1="249.3" x2="470.4" y2="249.3" stroke="#111" stroke-width="0.9"/>
<text x="466.9" y="251.01" font-size="4.75" text-anchor="end" font-weight="bold" stroke="#111" stroke-width="0.35">0.00</text>
<line x1="468.3" y1="228.4" x2="470.4" y2="228.4" stroke="#111" stroke-width="0.9"/>
<text x="466.9" y="230.11" font-size="4.75" text-anchor="end" font-weight="bold" stroke="#111" stroke-width="0.35">0.03</text>
<line x1="468.3" y1="207.7" x2="470.4" y2="207.7" stroke="#111" stroke-width="0.9"/>
<text x="466.9" y="209.41" font-size="4.75" text-anchor="end" font-weight="bold" stroke="#111" stroke-width="0.35">0.06</text>
<line x1="468.3" y1="187" x2="470.4" y2="187" stroke="#111" stroke-width="0.9"/>
<text x="466.9" y="188.71" font-size="4.75" text-anchor="end" font-weight="bold" stroke="#111" stroke-width="0.35">0.09</text>
<line x1="468.3" y1="166" x2="470.4" y2="166" stroke="#111" stroke-width="0.9"/>
<text x="466.9" y="167.71" font-size="4.75" text-anchor="end" font-weight="bold" stroke="#111" stroke-width="0.35">0.12</text>
<line x1="470.4" y1="249.3" x2="519" y2="249.3" stroke="#111" stroke-width="0.9"/>
<text x="454.9" y="208.5" font-size="6.2" font-weight="bold" stroke="#111" stroke-width="0.25" text-anchor="middle" transform="rotate(-90 454.9 208.5)">#Th17 cells (10<tspan font-size="4.2" dy="-2">5</tspan><tspan dy="2">)</tspan></text>
<line x1="478.7" y1="205.6" x2="478.7" y2="211" stroke="#111" stroke-width="0.9"/>
<line x1="475.9" y1="205.6" x2="481.5" y2="205.6" stroke="#111" stroke-width="0.9"/>
<rect x="473.85" y="211.45" width="9.7" height="37.85" fill="#000" stroke="#000" stroke-width="0.9"/>
<line x1="495.0" y1="176.4" x2="495.0" y2="186" stroke="#111" stroke-width="0.9"/>
<line x1="492.1" y1="176.4" x2="497.9" y2="176.4" stroke="#111" stroke-width="0.9"/>
<rect x="489.85" y="186.45" width="10.3" height="62.85" fill="#fff" stroke="#000" stroke-width="0.9"/>
<line x1="511.0" y1="247.2" x2="511.0" y2="247.6" stroke="#111" stroke-width="0.9"/>
<line x1="508.8" y1="247.2" x2="513.2" y2="247.2" stroke="#111" stroke-width="0.9"/>
<rect x="505" y="247.6" width="12.00" height="1.70" fill="#000"/>
<path d="M505.50 248.10h1.10v1.20h-1.10zM508.30 248.10h1.70v1.20h-1.70zM511.70 248.10h1.70v1.20h-1.70zM515.10 248.10h1.40v1.20h-1.40z" fill="#fff"/>
<text x="487.00" y="169.61" font-size="6" font-weight="bold" text-anchor="middle" letter-spacing="0" stroke="#111" stroke-width="0.3">*</text>
<line x1="478.6" y1="172" x2="495" y2="172" stroke="#2a2a2a" stroke-width="0.75"/>
<rect x="415.9" y="265.9" width="76.1" height="32.6" fill="#fff" stroke="#333" stroke-width="0.85"/>
<rect x="420.4" y="270.4" width="11.3" height="4.1" fill="#000"/>
<rect x="420.8" y="280.7" width="10.5" height="3.1" fill="#fff" stroke="#000" stroke-width="0.85"/>
<rect x="420.4" y="289.4" width="11.30" height="3.80" fill="#000"/>
<path d="M421.20 290.00h1.30v1.30h-1.30zM424.20 290.00h1.30v1.30h-1.30zM427.20 290.00h1.30v1.30h-1.30zM430.20 290.00h0.95v1.30h-0.95zM422.70 291.50h1.30v1.15h-1.30zM425.70 291.50h1.30v1.15h-1.30zM428.70 291.50h1.30v1.15h-1.30z" fill="#fff"/>
<text x="438.8" y="275.4" font-size="7.5" text-anchor="start" stroke="#111" stroke-width="0.22">saline</text>
<text x="438.8" y="284.6" font-size="7.5" text-anchor="start" stroke="#111" stroke-width="0.22">5mg/kg CSA</text>
<text x="438.8" y="293.8" font-size="7.5" text-anchor="start" stroke="#111" stroke-width="0.22">50mg/kg CSA</text>
</svg>
</body></html>
